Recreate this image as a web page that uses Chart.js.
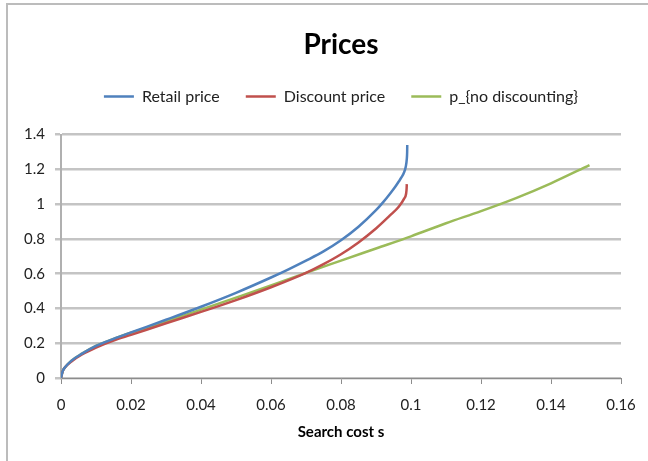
<!DOCTYPE html>
<html>
<head>
<meta charset="utf-8">
<script src="https://cdn.jsdelivr.net/npm/chart.js@4.4.0/dist/chart.umd.min.js"></script>
<style>
  html, body { margin: 0; padding: 0; background: #fff; overflow: hidden; }
  #frame { position: absolute; left: 6px; top: 3px; width: 700px; height: 500px;
           border-left: 2px solid #bcbcbc; border-top: 2px solid #bcbcbc; }
  #wrap { position: absolute; left: 0; top: 0; width: 648px; height: 461px; }
</style>
</head>
<body>
<div id="frame"></div>
<div id="wrap"><canvas id="c" width="648" height="461"></canvas></div>
<script>
// Search cost s (x) and price (y) for each series
const retailS = [0, 0.0005, 0.0011, 0.003, 0.006, 0.01, 0.015, 0.02, 0.03, 0.04, 0.05, 0.06, 0.065, 0.07, 0.075, 0.08, 0.085, 0.09, 0.092, 0.094, 0.0955, 0.0965, 0.0973, 0.098, 0.0985, 0.0988, 0.0989, 0.09893];
const retailP = [0, 0.04, 0.06, 0.10, 0.14, 0.185, 0.225, 0.262, 0.335, 0.41, 0.49, 0.578, 0.625, 0.675, 0.728, 0.792, 0.87, 0.965, 1.01, 1.06, 1.10, 1.13, 1.155, 1.182, 1.215, 1.26, 1.30, 1.34];

const discountS = [0, 0.0005, 0.0011, 0.003, 0.006, 0.01, 0.015, 0.02, 0.03, 0.04, 0.05, 0.06, 0.07, 0.075, 0.08, 0.085, 0.09, 0.094, 0.0965, 0.098, 0.0986, 0.09875, 0.0988];
const discountP = [0, 0.04, 0.06, 0.095, 0.135, 0.175, 0.215, 0.248, 0.315, 0.38, 0.448, 0.522, 0.605, 0.655, 0.712, 0.78, 0.86, 0.935, 0.985, 1.03, 1.06, 1.09, 1.115];

const noDiscS = [0, 0.0005, 0.0011, 0.003, 0.006, 0.01, 0.015, 0.02, 0.03, 0.04, 0.05, 0.06, 0.07, 0.08, 0.09, 0.10, 0.11, 0.12, 0.13, 0.14, 0.151];
const noDiscP = [0, 0.04, 0.06, 0.10, 0.14, 0.185, 0.225, 0.26, 0.325, 0.393, 0.462, 0.532, 0.605, 0.675, 0.745, 0.815, 0.89, 0.96, 1.035, 1.12, 1.225];

const seriesNames = ['Retail price', 'Discount price', 'p_{no discounting}'];
const seriesColors = ['#4f81bd', '#c0504d', '#9bbb59'];

const xTicks = { min: 0, max: 0.16, step: 0.02 };
const yTicks = { min: 0, max: 1.4, step: 0.2 };

const FONT = 'Lato, "Open Sans", sans-serif';

function points(xs, ys) {
  return xs.map((x, i) => ({ x: x, y: ys[i] }));
}

const seriesData = [
  points(retailS, retailP),
  points(discountS, discountP),
  points(noDiscS, noDiscP)
];

function fmt(v) {
  return String(parseFloat(v.toFixed(3)));
}

// extra room between the legend row and the plot
const legendGap = {
  id: 'legendGap',
  beforeLayout(chart) {
    const lg = chart.legend;
    if (lg && !lg.__gapPatched) {
      const fit = lg.fit;
      lg.fit = function () { fit.call(this); this.height += 20; };
      lg.__gapPatched = true;
    }
  }
};

new Chart(document.getElementById('c'), {
  type: 'scatter',
  data: {
    datasets: seriesData.map((d, i) => ({
      label: seriesNames[i],
      data: d,
      showLine: true,
      borderColor: seriesColors[i],
      backgroundColor: seriesColors[i],
      borderWidth: 2.5,
      pointRadius: 0,
      pointHoverRadius: 0,
      cubicInterpolationMode: 'monotone',
      fill: false
    }))
  },
  options: {
    responsive: false,
    animation: false,
    devicePixelRatio: 1,
    layout: { padding: { left: 8, right: 27, top: 0, bottom: 0 } },
    plugins: {
      title: {
        display: true,
        text: 'Prices',
        fullSize: false,
        color: '#000',
        font: { family: FONT, size: 28, weight: 'bold' },
        padding: { top: 28, bottom: 1 }
      },
      legend: {
        display: true,
        position: 'top',
        fullSize: false,
        labels: {
          usePointStyle: true,
          pointStyle: 'line',
          pointStyleWidth: 30,
          color: '#222',
          font: { family: FONT, size: 16 },
          padding: 26
        }
      },
      tooltip: { enabled: false }
    },
    scales: {
      x: {
        type: 'linear',
        min: xTicks.min,
        max: xTicks.max,
        afterFit(s) { s.height = 83; },
        border: { display: true, color: '#8c8c8c', width: 1 },
        grid: { drawOnChartArea: false, drawTicks: true, tickLength: 6, color: '#8c8c8c', lineWidth: 1 },
        ticks: { stepSize: xTicks.step, padding: 12, color: '#222', font: { family: FONT, size: 15 }, callback: fmt },
        title: {
          display: true,
          text: 'Search cost s',
          color: '#000',
          font: { family: FONT, size: 15, weight: 'bold' },
          padding: { top: 0, bottom: 20 }
        }
      },
      y: {
        type: 'linear',
        min: yTicks.min,
        max: yTicks.max,
        afterFit(s) { s.width = 53; },
        border: { display: true, color: '#b0b0b0', width: 2 },
        grid: { drawOnChartArea: true, drawTicks: true, tickLength: 6, color: '#c4c4c4', lineWidth: 2.5 },
        ticks: { stepSize: yTicks.step, padding: 10, color: '#222', font: { family: FONT, size: 15 }, callback: fmt }
      }
    }
  },
  plugins: [legendGap]
});
</script>
</body>
</html>
